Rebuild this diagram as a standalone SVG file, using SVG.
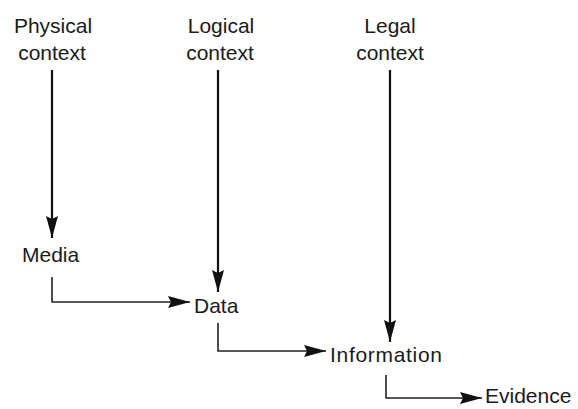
<svg xmlns="http://www.w3.org/2000/svg" width="578" height="409" viewBox="0 0 578 409">
<defs>
<style>
text{font-family:"Liberation Sans",Arial,sans-serif;font-size:21px;fill:#1a1a1a}
.c{text-anchor:middle}
.v{stroke:#111;stroke-width:2.2;fill:none}
.e{stroke:#222;stroke-width:1.6;fill:none}
</style>
<marker id="ah" viewBox="0 0 22 12" refX="22" refY="6" markerWidth="22" markerHeight="12" markerUnits="userSpaceOnUse" orient="auto">
<path d="M0,0 L22,6 L0,12 L3,6 Z" fill="#111"/>
</marker>
</defs>
<rect width="578" height="409" fill="#fff"/>
<g id="physical"><text class="c" x="53" y="33">Physical</text><text class="c" x="52" y="60">context</text></g>
<g id="logical"><text class="c" x="221" y="33">Logical</text><text class="c" x="220" y="60">context</text></g>
<g id="legal"><text class="c" x="390" y="33">Legal</text><text class="c" x="390" y="60">context</text></g>
<g id="media"><text x="22" y="262">Media</text></g>
<g id="data"><text x="194" y="313">Data</text></g>
<g id="information"><text x="330" y="362" textLength="112">Information</text></g>
<g id="evidence"><text x="485" y="403">Evidence</text></g>
<g id="connectors">
<path class="v" d="M52,70 V238" marker-end="url(#ah)"/>
<path class="v" d="M218,70 V292" marker-end="url(#ah)"/>
<path class="v" d="M390,70 V342" marker-end="url(#ah)"/>
<path class="e" d="M52,277 V302 H190" marker-end="url(#ah)"/>
<path class="e" d="M218,323 V351 H326" marker-end="url(#ah)"/>
<path class="e" d="M386,375 V398 H482" marker-end="url(#ah)"/>
</g>
</svg>
